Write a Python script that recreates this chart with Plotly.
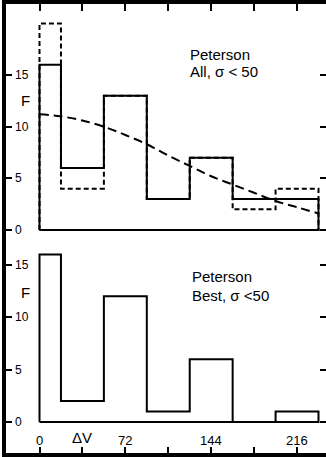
import plotly.graph_objects as go

# ---- data ----
edges_all = [0, 18, 54, 90, 126, 162, 234]
counts_all = [16, 6, 13, 3, 7, 3]
edges_all_dash = [0, 18, 54, 90, 126, 162, 198, 234]
counts_all_dash = [20, 4, 13, 3, 7, 2, 4]
edges_best = [0, 18, 54, 90, 126, 162, 198, 234]
counts_best = [16, 2, 12, 1, 6, 0, 1]
curve_x = [0, 18, 36, 54, 72, 90, 108, 126, 144, 162, 180, 198, 216, 234]
curve_y = [11.2, 11.0, 10.6, 10.0, 9.2, 8.3, 7.2, 6.2, 5.2, 4.4, 3.6, 2.8, 2.2, 1.6]
x_tickvals = [0, 36, 72, 108, 144, 180, 216]
x_labelvals = [0, 72, 144, 216]
x_labeltext = ["0", "72", "144", "216"]
y_tickvals = [0, 5, 10, 15]
y_ticktext = ["0", "5", "10", "15"]


def step_outline(edges, counts):
    xs = [edges[0]] + list(edges[:-1]) + [edges[-1], edges[-1], edges[0]]
    ys = [0] + list(counts) + [counts[-1], 0, 0]
    return xs, ys


FONT = "Liberation Sans"
fig = go.Figure()

# top panel (y2)
xd, yd = step_outline(edges_all_dash, counts_all_dash)
fig.add_trace(go.Scatter(x=xd, y=yd, mode="lines", line_shape="hv",
                         line=dict(color="black", width=2, dash="5px,3px"),
                         xaxis="x2", yaxis="y2", showlegend=False, hoverinfo="skip"))
xs, ys = step_outline(edges_all, counts_all)
fig.add_trace(go.Scatter(x=xs, y=ys, mode="lines", line_shape="hv",
                         line=dict(color="black", width=2),
                         xaxis="x2", yaxis="y2", showlegend=False, hoverinfo="skip"))
fig.add_trace(go.Scatter(x=curve_x, y=curve_y, mode="lines", line_shape="spline",
                         line=dict(color="black", width=2, dash="9px,5px"),
                         xaxis="x2", yaxis="y2", showlegend=False, hoverinfo="skip"))

# bottom panel (y)
xb, yb = step_outline(edges_best, counts_best)
fig.add_trace(go.Scatter(x=xb, y=yb, mode="lines", line_shape="hv",
                         line=dict(color="black", width=2),
                         xaxis="x", yaxis="y", showlegend=False, hoverinfo="skip"))

XR = [-28.1, 240.3]
split = 213 / 449
top_range = [-0.97, 21.88]
bot_range = [-2.96, 17.38]

tick_style = dict(ticks="inside", tickwidth=2, tickcolor="black", showgrid=False,
                  zeroline=False, showticklabels=False)

fig.update_layout(
    width=330, height=457,
    margin=dict(l=6, r=0, t=4, b=4, pad=0),
    plot_bgcolor="white", paper_bgcolor="white",
    xaxis=dict(domain=[0, 1], range=XR, anchor="y", tickvals=x_tickvals, ticklen=6,
               showline=True, linewidth=4, linecolor="black", **tick_style),
    xaxis2=dict(domain=[0, 1], range=XR, anchor="y2", side="top", tickvals=x_tickvals,
                ticklen=7, showline=True, linewidth=4, linecolor="black", **tick_style),
    yaxis=dict(domain=[0, split], range=bot_range, anchor="x", tickvals=y_tickvals,
               ticklen=6, showline=True, linewidth=4, linecolor="black", mirror="ticks",
               **tick_style),
    yaxis2=dict(domain=[split, 1], range=top_range, anchor="x2", tickvals=y_tickvals,
                ticklen=6, showline=True, linewidth=4, linecolor="black", mirror="ticks",
                **tick_style),
)

# y tick labels (both panels)
for v, t in zip(y_tickvals, y_ticktext):
    for yref in ("y", "y2"):
        fig.add_annotation(x=-22.6, y=v, xref="x", yref=yref, text=t, showarrow=False,
                           xanchor="left", yanchor="middle",
                           font=dict(family=FONT, size=12, color="black"))

# x tick labels
for v, t in zip(x_labelvals, x_labeltext):
    fig.add_annotation(x=v, y=-1.72, xref="x", yref="y", text=t, showarrow=False,
                       xanchor="center", yanchor="middle",
                       font=dict(family=FONT, size=13, color="black"))

ann_font = dict(family=FONT, size=15, color="black")
fig.add_annotation(x=124.5, y=17.0, xref="x2", yref="y2", text="Peterson", showarrow=False,
                   xanchor="left", yanchor="middle", font=ann_font)
fig.add_annotation(x=124.5, y=15.3, xref="x2", yref="y2", text="All, σ &lt; 50", showarrow=False,
                   xanchor="left", yanchor="middle", font=ann_font)
fig.add_annotation(x=126, y=13.9, xref="x", yref="y", text="Peterson", showarrow=False,
                   xanchor="left", yanchor="middle", font=ann_font)
fig.add_annotation(x=126, y=12.1, xref="x", yref="y", text="Best, σ &lt;50", showarrow=False,
                   xanchor="left", yanchor="middle", font=ann_font)
fig.add_annotation(x=-11.5, y=12.5, xref="x2", yref="y2", text="F", showarrow=False,
                   font=dict(family=FONT, size=15, color="black"))
fig.add_annotation(x=-11.5, y=12.4, xref="x", yref="y", text="F", showarrow=False,
                   font=dict(family=FONT, size=15, color="black"))
fig.add_annotation(x=35.5, y=-1.45, xref="x", yref="y", text="ΔV", showarrow=False,
                   font=dict(family=FONT, size=15, color="black"))

fig.write_html(
    "out.html", config={"displayModeBar": False},
    post_script=("document.body.style.margin='0px';"
                 "document.body.style.overflow='hidden';"
                 "document.documentElement.style.overflow='hidden';"),
)
